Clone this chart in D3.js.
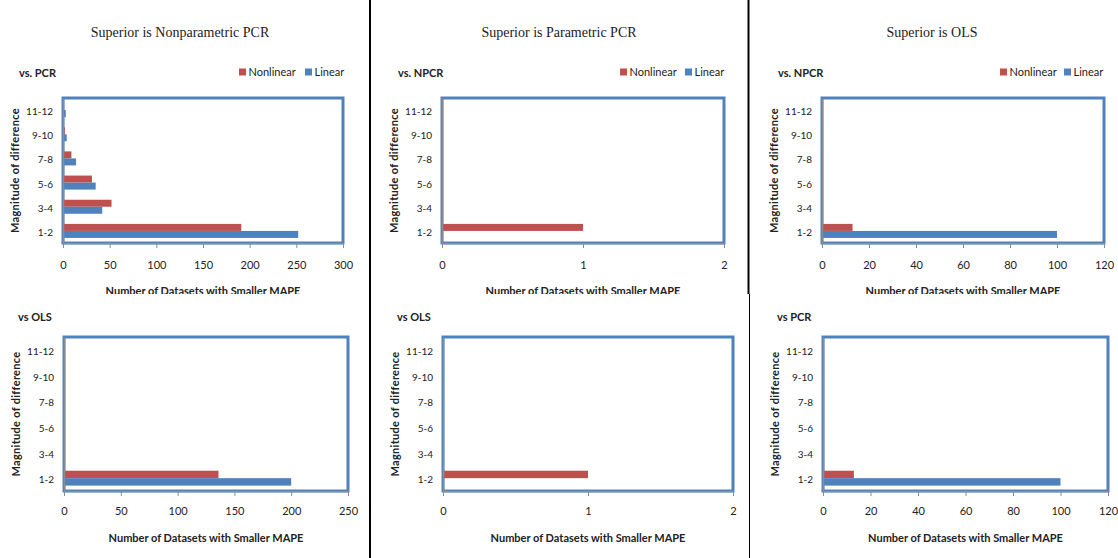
<!DOCTYPE html>
<html>
<head>
<meta charset="utf-8">
<script src="https://cdn.jsdelivr.net/npm/d3@7"></script>
<style>
  body { margin: 0; background: #fff; }
  text { font-family: Lato, 'Open Sans', sans-serif; fill: #222; }
  .coltitle { font-family: 'Liberation Serif', serif; font-size: 14px; }
  .bold { font-weight: bold; font-size: 11px; }
  .tick text { font-size: 11px; }
</style>
</head>
<body>
<script>
// categories along the y axis (bottom to top)
const categories = ['1-2', '3-4', '5-6', '7-8', '9-10', '11-12']
const seriesNames = ['Nonlinear', 'Linear']

const columnTitles = ['Superior is Nonparametric PCR', 'Superior is Parametric PCR', 'Superior is OLS']
const panelLabels = ['vs. PCR', 'vs. NPCR', 'vs. NPCR', 'vs OLS', 'vs OLS', 'vs PCR']

// number of datasets, same order as categories
const npcrVsPcrNonlinear = [191, 52, 31, 9, 2, 1]
const npcrVsPcrLinear = [252, 42, 35, 14, 4, 3]
const pcrVsNpcrNonlinear = [1, 0, 0, 0, 0, 0]
const pcrVsNpcrLinear = [0, 0, 0, 0, 0, 0]
const olsVsNpcrNonlinear = [13, 0, 0, 0, 0, 0]
const olsVsNpcrLinear = [100, 0, 0, 0, 0, 0]
const npcrVsOlsNonlinear = [136, 0, 0, 0, 0, 0]
const npcrVsOlsLinear = [200, 0, 0, 0, 0, 0]
const pcrVsOlsNonlinear = [1, 0, 0, 0, 0, 0]
const pcrVsOlsLinear = [0, 0, 0, 0, 0, 0]
const olsVsPcrNonlinear = [13, 0, 0, 0, 0, 0]
const olsVsPcrLinear = [100, 0, 0, 0, 0, 0]

// x axis extent and tick step per panel
const xMaxes = [300, 2, 120, 250, 2, 120]
const xSteps = [50, 1, 20, 50, 1, 20]

const panelValues = [
  [npcrVsPcrNonlinear, npcrVsPcrLinear],
  [pcrVsNpcrNonlinear, pcrVsNpcrLinear],
  [olsVsNpcrNonlinear, olsVsNpcrLinear],
  [npcrVsOlsNonlinear, npcrVsOlsLinear],
  [pcrVsOlsNonlinear, pcrVsOlsLinear],
  [olsVsPcrNonlinear, olsVsPcrLinear]
]

const colors = { Nonlinear: '#C0504D', Linear: '#4F81BD' }

// plot area boxes
const layout = [
  { left: 63, right: 343, top: 98, bottom: 243, labelX: 19, labelY: 73, titleX: 180, legend: [239, 305] },
  { left: 442, right: 724, top: 98, bottom: 243, labelX: 398, labelY: 73, titleX: 559, legend: [620, 685] },
  { left: 822, right: 1104, top: 98, bottom: 243, labelX: 778, labelY: 73, titleX: 932, legend: [1000, 1064] },
  { left: 64, right: 348, top: 337, bottom: 491, labelX: 18, labelY: 317 },
  { left: 443, right: 733, top: 337, bottom: 491, labelX: 397, labelY: 317 },
  { left: 823, right: 1108, top: 337, bottom: 491, labelX: 777, labelY: 317 }
]

const svg = d3.select('body')
  .append('svg')
  .attr('width', 1118)
  .attr('height', 558)

// the top row pictures are cropped just under their x axis title
svg.append('clipPath')
  .attr('id', 'topClip')
  .append('rect')
  .attr('x', 0).attr('y', 0)
  .attr('width', 1118).attr('height', 294)

const topRow = svg.append('g').attr('clip-path', 'url(#topClip)')
const bottomRow = svg.append('g')

layout.forEach((p, i) => {
  const g = i < 3 ? topRow.append('g') : bottomRow.append('g')
  const top = i < 3

  if (top) {
    g.append('text')
      .attr('class', 'coltitle')
      .attr('x', p.titleX)
      .attr('y', 37)
      .attr('text-anchor', 'middle')
      .text(columnTitles[i])

    // legend
    seriesNames.forEach((s, j) => {
      g.append('rect')
        .attr('x', p.legend[j])
        .attr('y', 68.5)
        .attr('width', 7)
        .attr('height', 7)
        .style('fill', colors[s])
      g.append('text')
        .attr('x', p.legend[j] + 9.5)
        .attr('y', 76)
        .style('font-size', '11px')
        .text(s)
    })
  }

  g.append('text')
    .attr('class', 'bold')
    .attr('x', p.labelX)
    .attr('y', p.labelY + 4)
    .text(panelLabels[i])

  const xScale = d3.scaleLinear()
    .domain([0, xMaxes[i]])
    .range([p.left, p.right])

  const yScale = d3.scaleBand()
    .domain(categories)
    .range([p.bottom, p.top])
    .paddingInner(0.42)
    .paddingOuter(0.21)

  const sScale = d3.scaleBand()
    .domain(seriesNames)
    .range([0, yScale.bandwidth()])

  // plot area border
  g.append('rect')
    .attr('x', p.left)
    .attr('y', p.top)
    .attr('width', p.right - p.left)
    .attr('height', p.bottom - p.top)
    .style('fill', 'white')
    .style('stroke', '#4F81BD')
    .style('stroke-width', 3)

  // bars
  seriesNames.forEach((s, j) => {
    g.selectAll('rect.bar' + j)
      .data(panelValues[i][j])
      .enter()
      .append('rect')
      .attr('class', 'bar' + j)
      .attr('x', xScale(0))
      .attr('y', (d, k) => yScale(categories[k]) + sScale(s))
      .attr('width', d => xScale(d) - xScale(0))
      .attr('height', sScale.bandwidth())
      .style('fill', colors[s])
  })

  const xAxis = d3.axisBottom(xScale)
    .tickValues(d3.range(0, xMaxes[i] + xSteps[i] / 2, xSteps[i]))
    .tickFormat(d3.format('d'))
    .tickSize(5)
    .tickSizeOuter(0)
    .tickPadding(top ? 13 : 11)

  const xg = g.append('g')
    .attr('transform', `translate(0,${p.bottom})`)
    .call(xAxis)
  xg.select('.domain').style('stroke', '#8c8c8c').style('stroke-width', 1.5)
  xg.selectAll('.tick line').style('stroke', '#8c8c8c')
  xg.selectAll('.tick text').style('fill', '#222')

  const yAxis = d3.axisLeft(yScale)
    .tickSize(0)
    .tickPadding(10)

  const yg = g.append('g')
    .attr('transform', `translate(${p.left},0)`)
    .call(yAxis)
  yg.select('.domain').style('stroke', '#8c8c8c').style('stroke-width', 1.5)
  yg.selectAll('.tick text').style('font-size', '10px').attr('dy', '0.5em')

  // axis titles
  g.append('text')
    .attr('class', 'bold')
    .attr('x', (p.left + p.right) / 2)
    .attr('y', top ? 295 : 542)
    .attr('text-anchor', 'middle')
    .text('Number of Datasets with Smaller MAPE')

  g.append('text')
    .attr('class', 'bold')
    .attr('transform', `translate(${p.left - 44},${(p.top + p.bottom) / 2}) rotate(-90)`)
    .attr('text-anchor', 'middle')
    .style('letter-spacing', '0.3px')
    .text('Magnitude of difference')
})

// column dividers
svg.append('line')
  .attr('x1', 370).attr('x2', 370)
  .attr('y1', 0).attr('y2', 558)
  .style('stroke', 'black').style('stroke-width', 2)
svg.append('line')
  .attr('x1', 748.5).attr('x2', 748.5)
  .attr('y1', 0).attr('y2', 294)
  .style('stroke', 'black').style('stroke-width', 2)
svg.append('line')
  .attr('x1', 749.5).attr('x2', 749.5)
  .attr('y1', 294).attr('y2', 558)
  .style('stroke', 'black').style('stroke-width', 1)
</script>
</body>
</html>
